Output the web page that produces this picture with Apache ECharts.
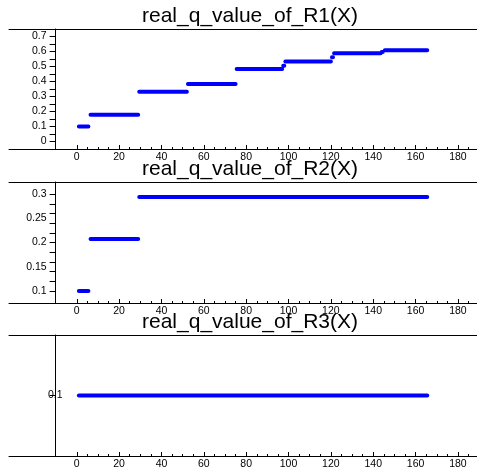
<!DOCTYPE html>
<html>
<head>
<meta charset="utf-8">
<script src="https://cdn.jsdelivr.net/npm/echarts@6/dist/echarts.min.js"></script>
<style>
html, body { margin: 0; padding: 0; background: #fff; }
#chart { width: 477px; height: 467px; }
</style>
</head>
<body>
<div id="chart"></div>
<script>
// step pieces: start x, end x, value
var r1Start = [1, 6.5, 29.5, 52.5, 75.5, 97.5, 98.5, 120.5, 121.5, 144, 145.5];
var r1End   = [5.5, 29, 52, 75, 97, 98, 120, 121, 143.5, 144.5, 165.5];
var r1Value = [0.10, 0.178, 0.331, 0.383, 0.483, 0.505, 0.533, 0.562, 0.589, 0.597, 0.609];

var r2Start = [1, 6.5, 29.5];
var r2End   = [5.5, 29, 165.5];
var r2Value = [0.10, 0.207, 0.294];

var r3Start = [1];
var r3End   = [165.5];
var r3Value = [0.1];

var titles = ['real_q_value_of_R1(X)', 'real_q_value_of_R2(X)', 'real_q_value_of_R3(X)'];

// tick marks / labels
var xLabels = [0, 20, 40, 60, 80, 100, 120, 140, 160, 180];
var xMinor = [5, 10, 15, 25, 30, 35, 45, 50, 55, 65, 70, 75, 85, 90, 95, 105, 110, 115,
              125, 130, 135, 145, 150, 155, 165, 170, 175, 185];
var y1Labels = [0, 0.1, 0.2, 0.3, 0.4, 0.5, 0.6, 0.7];
var y1Ticks = [0, 0.05, 0.1, 0.15, 0.2, 0.25, 0.3, 0.35, 0.4, 0.45, 0.5, 0.55, 0.6, 0.65, 0.7];
var y2Labels = [0.1, 0.15, 0.2, 0.25, 0.3];
var y2Ticks = [0.1, 0.12, 0.14, 0.16, 0.18, 0.2, 0.22, 0.24, 0.26, 0.28, 0.3];
var y3Labels = [0.1];

var myChart = echarts.init(document.getElementById('chart'));

function steps(s, e, v) {
    var d = [];
    for (var i = 0; i < s.length; i++) {
        d.push([s[i], v[i]], [e[i], v[i]], [e[i], null]);
    }
    return d;
}

var panels = [
    { top: 29, height: 120, min: -0.05, max: 0.75, labels: y1Labels, ticks: y1Ticks, margin: 9, titleTop: 1,
      data: steps(r1Start, r1End, r1Value) },
    { top: 182, height: 121, min: 0.075, max: 0.325, labels: y2Labels, ticks: y2Ticks, margin: 9, titleTop: 154,
      data: steps(r2Start, r2End, r2Value) },
    { top: 335, height: 121, min: 0, max: 0.2, labels: y3Labels, ticks: y3Labels, margin: -7, titleTop: 307,
      data: steps(r3Start, r3End, r3Value) }
];

var xMin = -32, xMax = 189;
var black = { color: '#000', width: 1 };
var labelFont = { fontFamily: 'Liberation Sans', fontSize: 10.5, color: '#000' };

var grid = [], xAxis = [], yAxis = [], series = [], title = [];
for (var i = 0; i < panels.length; i++) {
    var p = panels[i];
    grid.push({ left: 9, right: 0, top: p.top, height: p.height, outerBoundsMode: 'none', containLabel: false });
    title.push({
        text: titles[i], left: 245, top: p.titleTop, textAlign: 'center',
        textStyle: { fontFamily: 'Liberation Sans', fontSize: 21, fontWeight: 'normal', color: '#000' }
    });
    // main bottom axis
    xAxis.push({
        gridIndex: i, type: 'value', position: 'bottom', min: xMin, max: xMax,
        axisLine: { onZero: false, lineStyle: black },
        axisTick: { inside: true, length: 4, customValues: xLabels, lineStyle: black },
        axisLabel: Object.assign({ customValues: xLabels, margin: 3 }, labelFont),
        splitLine: { show: false }
    });
    // minor ticks
    xAxis.push({
        gridIndex: i, type: 'value', position: 'bottom', min: xMin, max: xMax,
        axisLine: { show: false, onZero: false },
        axisTick: { inside: true, length: 2, customValues: xMinor, lineStyle: black },
        axisLabel: { show: false },
        splitLine: { show: false }
    });
    // top frame line
    xAxis.push({
        gridIndex: i, type: 'value', position: 'top', min: xMin, max: xMax,
        axisLine: { onZero: false, lineStyle: black },
        axisTick: { show: false },
        axisLabel: { show: false },
        splitLine: { show: false }
    });
    yAxis.push({
        gridIndex: i, type: 'value', min: p.min, max: p.max, offset: -46.6,
        axisLine: { onZero: false, lineStyle: black },
        axisTick: { length: 6, customValues: p.ticks, lineStyle: black },
        axisLabel: Object.assign({ customValues: p.labels, margin: p.margin }, labelFont),
        splitLine: { show: false }
    });
    series.push({
        type: 'line', xAxisIndex: i * 3, yAxisIndex: i,
        data: p.data, showSymbol: false, symbol: 'none', connectNulls: false,
        lineStyle: { color: '#0000ff', width: 4, cap: 'round' }
    });
}

myChart.setOption({
    animation: false,
    backgroundColor: '#fff',
    title: title,
    grid: grid,
    xAxis: xAxis,
    yAxis: yAxis,
    series: series
});
</script>
</body>
</html>
